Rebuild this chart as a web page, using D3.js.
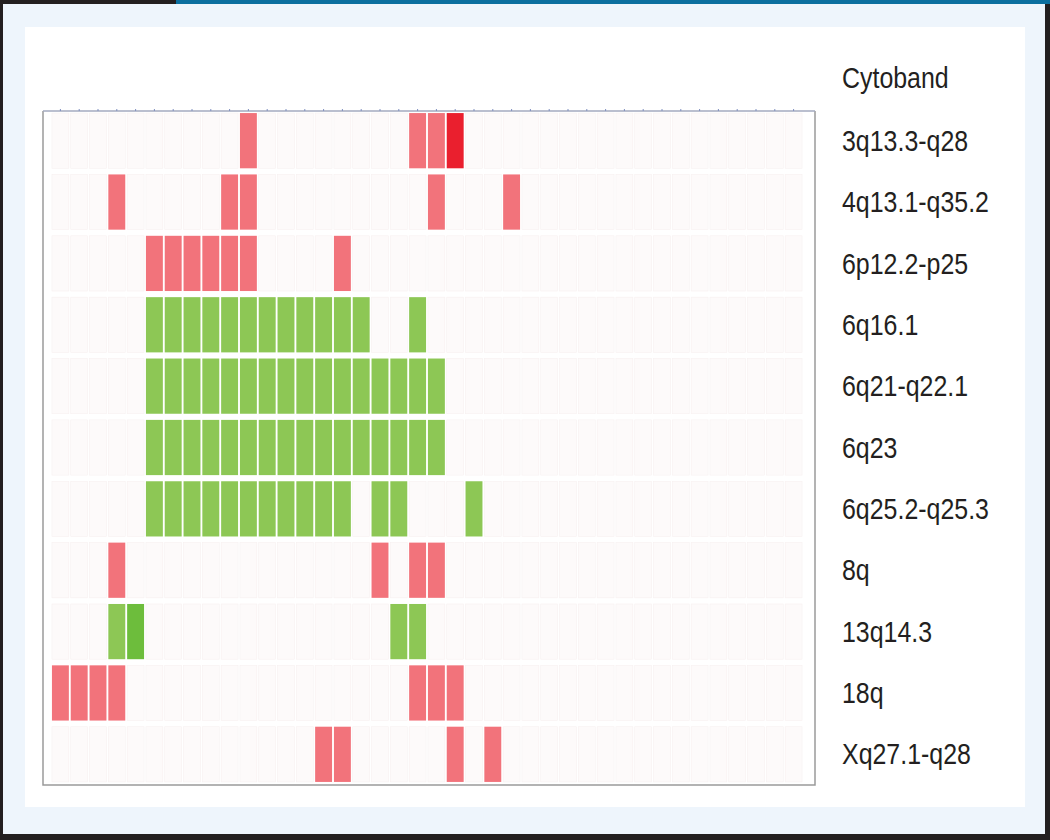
<!DOCTYPE html>
<html>
<head>
<meta charset="utf-8">
<script src="https://cdn.jsdelivr.net/npm/d3@7"></script>
<style>
    body { margin: 0; background: #fff; }
    svg { display: block; }
    text { font-family: "Liberation Sans", Arial, sans-serif; fill: #231f20; }
</style>
</head>
<body>
<svg width="1050" height="840"></svg>
<script>
// 11 cytobands, 40 samples. 1 = gain, 2 = high gain, -1 = loss, -2 = deep loss, 0 = none
var cytobands = ['3q13.3-q28', '4q13.1-q35.2', '6p12.2-p25', '6q16.1', '6q21-q22.1',
    '6q23', '6q25.2-q25.3', '8q', '13q14.3', '18q', 'Xq27.1-q28'];

var row3q = [0,0,0,0,0,0,0,0,0,0, 1,0,0,0,0,0,0,0,0,1, 1,2,0,0,0,0,0,0,0,0, 0,0,0,0,0,0,0,0,0,0];
var row4q = [0,0,0,1,0,0,0,0,0,1, 1,0,0,0,0,0,0,0,0,0, 1,0,0,0,1,0,0,0,0,0, 0,0,0,0,0,0,0,0,0,0];
var row6p = [0,0,0,0,0,1,1,1,1,1, 1,0,0,0,0,1,0,0,0,0, 0,0,0,0,0,0,0,0,0,0, 0,0,0,0,0,0,0,0,0,0];
var row6q16 = [0,0,0,0,0,-1,-1,-1,-1,-1, -1,-1,-1,-1,-1,-1,-1,0,0,-1, 0,0,0,0,0,0,0,0,0,0, 0,0,0,0,0,0,0,0,0,0];
var row6q21 = [0,0,0,0,0,-1,-1,-1,-1,-1, -1,-1,-1,-1,-1,-1,-1,-1,-1,-1, -1,0,0,0,0,0,0,0,0,0, 0,0,0,0,0,0,0,0,0,0];
var row6q23 = [0,0,0,0,0,-1,-1,-1,-1,-1, -1,-1,-1,-1,-1,-1,-1,-1,-1,-1, -1,0,0,0,0,0,0,0,0,0, 0,0,0,0,0,0,0,0,0,0];
var row6q25 = [0,0,0,0,0,-1,-1,-1,-1,-1, -1,-1,-1,-1,-1,-1,0,-1,-1,0, 0,0,-1,0,0,0,0,0,0,0, 0,0,0,0,0,0,0,0,0,0];
var row8q = [0,0,0,1,0,0,0,0,0,0, 0,0,0,0,0,0,0,1,0,1, 1,0,0,0,0,0,0,0,0,0, 0,0,0,0,0,0,0,0,0,0];
var row13q = [0,0,0,-1,-2,0,0,0,0,0, 0,0,0,0,0,0,0,0,-1,-1, 0,0,0,0,0,0,0,0,0,0, 0,0,0,0,0,0,0,0,0,0];
var row18q = [1,1,1,1,0,0,0,0,0,0, 0,0,0,0,0,0,0,0,0,1, 1,1,0,0,0,0,0,0,0,0, 0,0,0,0,0,0,0,0,0,0];
var rowXq = [0,0,0,0,0,0,0,0,0,0, 0,0,0,0,1,1,0,0,0,0, 0,1,0,1,0,0,0,0,0,0, 0,0,0,0,0,0,0,0,0,0];

var rows = [row3q, row4q, row6p, row6q16, row6q21, row6q23, row6q25, row8q, row13q, row18q, rowXq];
var states = [-2, -1, 0, 1, 2];
var stateColors = ['#6dbd3c', '#8dc755', '#fdfafa', '#f2737b', '#ea1f2e'];

var svg = d3.select('svg');

// page frame
svg.append('rect').attr('width', 1050).attr('height', 840).attr('fill', '#eef5fc');
svg.append('rect').attr('x', 25).attr('y', 27).attr('width', 1000).attr('height', 780).attr('fill', '#fff');
svg.append('rect').attr('x', 0).attr('y', 0).attr('width', 3).attr('height', 840).attr('fill', '#231f20');
svg.append('rect').attr('x', 1045).attr('y', 0).attr('width', 5).attr('height', 840).attr('fill', '#231f20');
svg.append('rect').attr('x', 0).attr('y', 834).attr('width', 1050).attr('height', 6).attr('fill', '#231f20');
svg.append('rect').attr('x', 0).attr('y', 0).attr('width', 176).attr('height', 4).attr('fill', '#231f20');
svg.append('rect').attr('x', 176).attr('y', 0).attr('width', 874).attr('height', 4).attr('fill', '#0b6f9f');

var samples = d3.range(rows[0].length);

var x = d3.scaleBand()
    .domain(samples)
    .range([51, 803])
    .paddingInner(0.1)
    .paddingOuter(0.05);

var y = d3.scaleBand()
    .domain(cytobands)
    .range([110, 785])
    .paddingInner(0.1)
    .paddingOuter(0.05);

var color = d3.scaleOrdinal().domain(states).range(stateColors);

var cells = [];
rows.forEach(function (vals, i) {
    vals.forEach(function (v, j) {
        cells.push({band: cytobands[i], sample: j, value: v});
    });
});

svg.append('g')
    .selectAll('rect')
    .data(cells)
    .enter()
    .append('rect')
    .attr('x', function (d) { return x(d.sample); })
    .attr('y', function (d) { return y(d.band); })
    .attr('width', x.bandwidth())
    .attr('height', y.bandwidth())
    .attr('fill', function (d) { return color(d.value); })
    .attr('stroke', function (d) { return d.value === 0 ? '#f7f0f0' : 'none'; })
    .attr('stroke-width', 0.6);

// plot border
svg.append('path')
    .attr('d', 'M43,111V785H815V111')
    .attr('fill', 'none')
    .attr('stroke', '#9a9a9a')
    .attr('stroke-width', 1.5);

var topAxis = svg.append('g')
    .attr('transform', 'translate(0,111)')
    .call(d3.axisTop(x).tickSize(2).tickFormat(''));
topAxis.select('.domain').attr('d', 'M43,0H815').attr('stroke', '#a3aabf').attr('stroke-width', 1.5);
topAxis.selectAll('.tick line').attr('stroke', '#7f8fbf');

// row labels, condensed face squeezed horizontally
var labels = svg.append('g')
    .attr('transform', 'translate(842,0) scale(0.86,1)');

labels.append('text')
    .attr('x', 0)
    .attr('y', 78)
    .attr('dy', '0.35em')
    .style('font-size', '29px')
    .text('Cytoband');

labels.selectAll('text.band')
    .data(cytobands)
    .enter()
    .append('text')
    .attr('class', 'band')
    .attr('x', 0)
    .attr('y', function (d) { return y(d) + y.bandwidth() / 2; })
    .attr('dy', '0.35em')
    .style('font-size', '29px')
    .text(function (d) { return d; });
</script>
</body>
</html>
